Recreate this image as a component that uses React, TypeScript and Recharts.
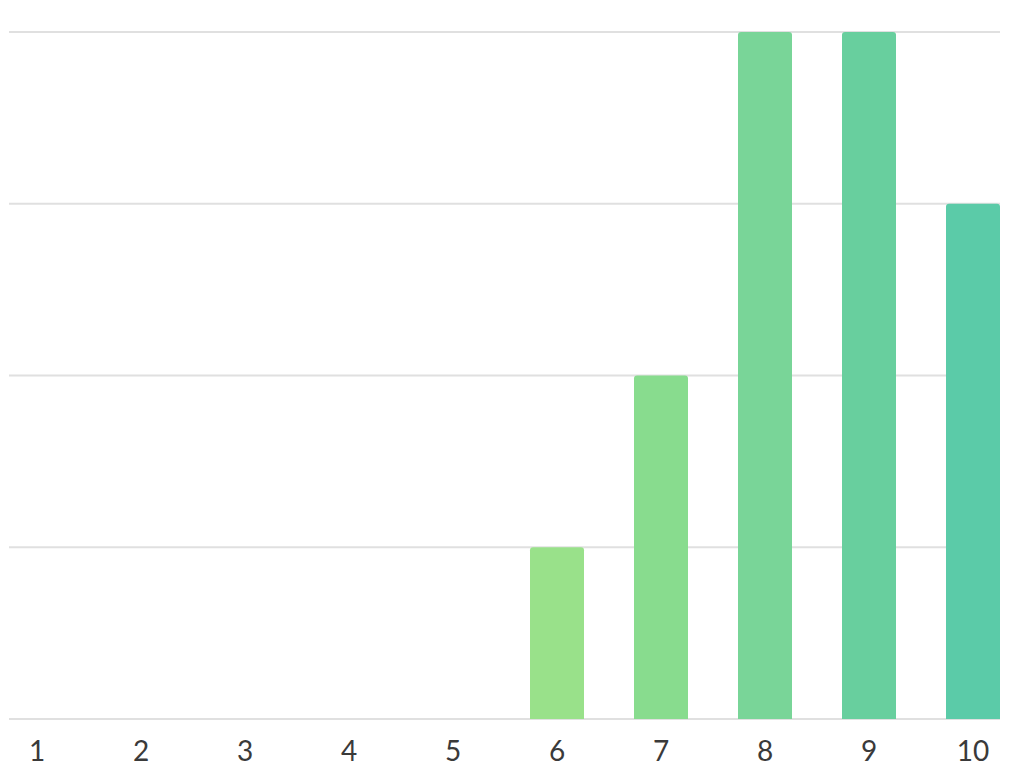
import React from "react";
import { BarChart, Bar, XAxis, YAxis, CartesianGrid, Cell } from "recharts";

const categories = ["1", "2", "3", "4", "5", "6", "7", "8", "9", "10"];
const values = [0, 0, 0, 0, 0, 1, 2, 4, 4, 3];
const yTicks = [0, 1, 2, 3, 4];

const barColors = [
  "#a8e486", "#a8e486", "#a8e486", "#a8e486", "#a8e486",
  "#99e18a", "#88dc8e", "#79d598", "#68cf9e", "#5bcba8",
];

const data = categories.map((c, i) => ({ name: c, value: values[i] }));

export default function App() {
  return (
    <div style={{ width: 1016, height: 761 }}>
      <BarChart
        width={1016}
        height={761}
        data={data}
        margin={{ top: 24, right: 24, bottom: 0, left: 1 }}
        barCategoryGap={0}
      >
        <CartesianGrid vertical={false} stroke="#e0e0e0" strokeWidth={2} />
        <YAxis hide domain={[0, 4]} ticks={yTicks} />
        <XAxis
          dataKey="name"
          height={50}
          axisLine={false}
          tickLine={false}
          tickMargin={16}
          padding={{ left: -24, right: -25 }}
          interval={0}
          tick={{ fill: "#3a3a3a", fontSize: 28, fontFamily: "Lato" }}
        />
        <Bar dataKey="value" barSize={54} radius={[3, 3, 0, 0]} isAnimationActive={false}>
          {data.map((d, i) => (
            <Cell key={d.name} fill={barColors[i]} />
          ))}
        </Bar>
      </BarChart>
    </div>
  );
}
